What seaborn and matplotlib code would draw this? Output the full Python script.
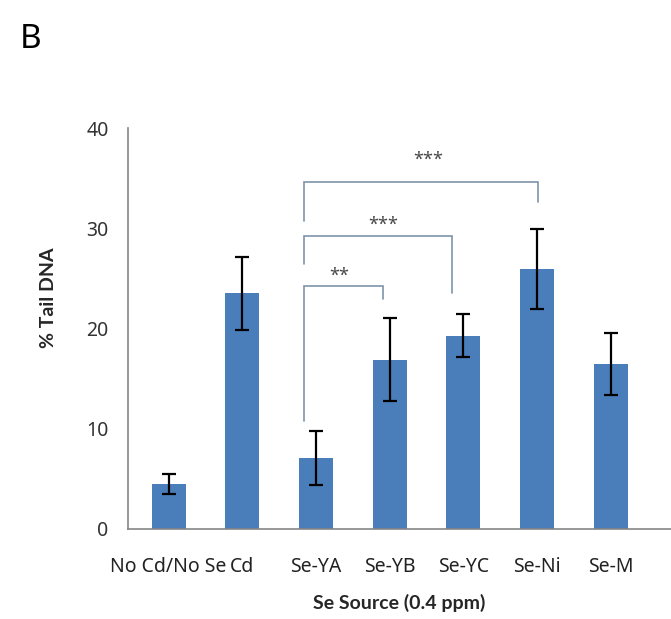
import matplotlib
matplotlib.use("Agg")
import matplotlib.pyplot as plt
import seaborn as sns
import pandas as pd

# Comet assay: % tail DNA by selenium source
categories = ["No Cd/No Se", "Cd", "Se-YA", "Se-YB", "Se-YC", "Se-Ni", "Se-M"]
tail_dna = [4.5, 23.5, 7.1, 16.9, 19.3, 25.9, 16.5]
sem = [1.0, 3.6, 2.7, 4.1, 2.1, 4.0, 3.1]

# Significance comparisons against Se-YA
comparisons = [("Se-YA", "Se-YB", "**"), ("Se-YA", "Se-YC", "***"), ("Se-YA", "Se-Ni", "***")]

df = pd.DataFrame({"source": categories, "tail": tail_dna, "sem": sem})

sns.set_theme(style="white")
plt.rcParams["font.family"] = ["Noto Sans", "DejaVu Sans"]
bold_family = ["Lato", "DejaVu Sans"]

fig = plt.figure(figsize=(6.71, 6.19), dpi=100)
ax = fig.add_axes([0.191, 0.1454, 0.809, 0.6478])

bar_color = "#4a7ebb"
sns.barplot(data=df, x="source", y="tail", color=bar_color, width=0.46,
            saturation=1, errorbar=None, ax=ax)
for p in ax.patches:
    p.set_edgecolor("none")

xpos = range(len(categories))
ax.errorbar(xpos, df["tail"], yerr=df["sem"], fmt="none", ecolor="black",
            elinewidth=1.6, capsize=5, capthick=1.6, zorder=3)

# Brackets: (x_left, x_right, y_top, y_left_end, y_right_end, star_x, star_y)
bracket_color = "#7d93ab"
bracket_geom = [
    (1.84, 2.91, 24.2, 10.8, 22.9, 2.31, 25.3),
    (1.84, 3.85, 29.2, 26.4, 23.5, 2.92, 30.3),
    (1.84, 5.01, 34.6, 30.7, 32.6, 3.53, 36.8),
]
for (xl, xr, yt, yl, yr, sx, sy), (_, _, lab) in zip(bracket_geom, comparisons):
    ax.plot([xl, xl, xr, xr], [yl, yt, yt, yr], color=bracket_color, lw=1.2,
            solid_joinstyle="miter", zorder=2)
    ax.text(sx, sy, lab, ha="center", va="center", fontsize=13, color="#4a4a4a")

ax.set_ylim(0, 40)
ax.set_xlim(-0.55, 6.82)
ax.set_yticks([0, 10, 20, 30, 40])
ax.tick_params(axis="y", direction="out", length=5, width=1, color="#868686",
               labelsize=14, labelcolor="#333333", pad=9)
ax.tick_params(axis="x", length=0, labelsize=14, labelcolor="#222222", pad=20)

for side in ["top", "right"]:
    ax.spines[side].set_visible(False)
for side in ["left", "bottom"]:
    ax.spines[side].set_color("#868686")
    ax.spines[side].set_linewidth(1.2)

ax.set_ylabel("")
ax.set_xlabel("Se Source (0.4 ppm)", fontsize=14, fontweight="bold",
              family=bold_family, labelpad=12)
fig.text(48 / 671, 1 - 298 / 619, "% Tail DNA", rotation=90, ha="center",
         va="center", fontsize=14, fontweight="bold", family=bold_family)

fig.text(20 / 671, 1 - 40 / 619, "B", fontsize=24, color="black", ha="left", va="center")

fig.savefig("out.png", dpi=100)
